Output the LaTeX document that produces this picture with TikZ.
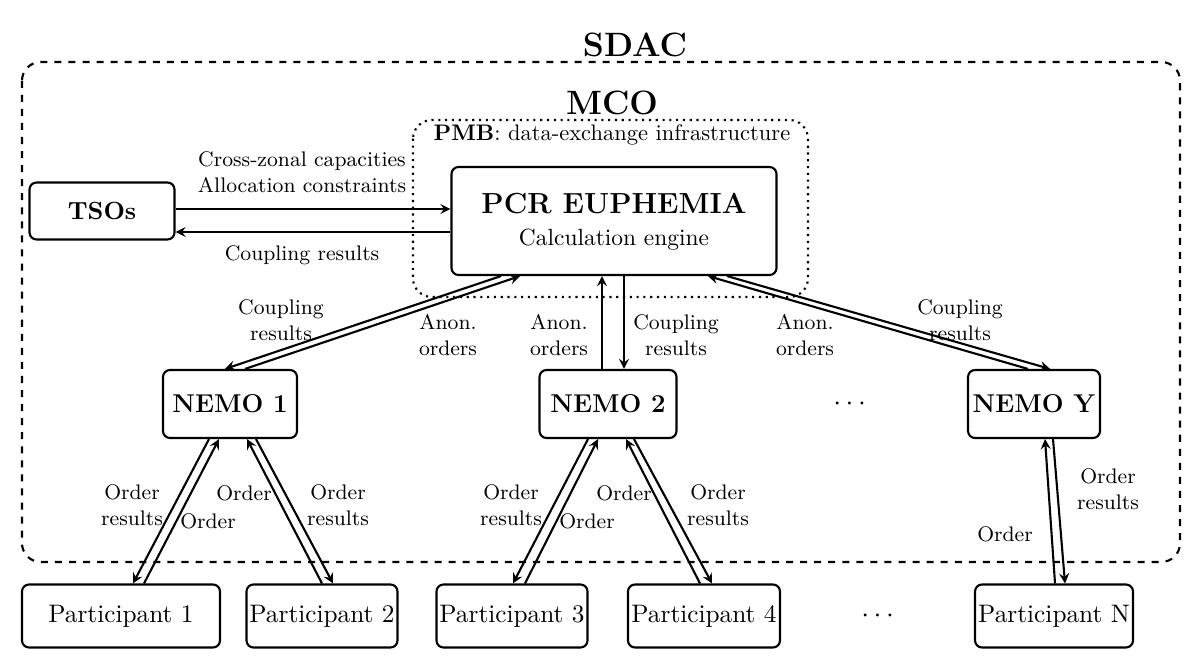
\documentclass[tikz,border=0pt]{standalone}
\usepackage{amsmath}
\usepackage{amssymb}
\usetikzlibrary{arrows}

\begin{document}
\begin{tikzpicture}[x=0.015cm, y=-0.015cm, every path/.style={line width=0.9pt}, >=stealth,
	box/.style={draw=black, rounded corners=3pt, line width=0.9pt, inner sep=0pt},
	lbl/.style={font=\small, align=center, inner sep=1pt},
	part/.style={box, font=\fontsize{10.8}{13}\selectfont, minimum height=63*0.015cm}]
			\useasboundingbox (0,0) rectangle (1200,669);
			\node[font=\Large\bfseries] (sdac) at (635,45) {SDAC};
			\draw[dashed, rounded corners=8pt] (22,62) rectangle (1180,562);
			\node[font=\Large\bfseries] (mco) at (612,103) {MCO};
			\draw[dotted, rounded corners=8pt] (413,120) rectangle (808,297);
			\node[lbl, font=\fontsize{9.6}{11}\selectfont] (pmb) at (612,135) {\textbf{PMB}: data-exchange infrastructure};
			
			\node[box, minimum width=325*0.015cm, minimum height=108*0.015cm] (pcr) at (614,221){};
			\node[font=\fontsize{12.4}{15}\selectfont\bfseries] (pcrt) at (614,204) {PCR EUPHEMIA};
			\node (pcrs) at (614,240) {Calculation engine};
			\node[box, font=\fontsize{10.6}{12}\selectfont\bfseries, minimum width=145*0.015cm, minimum height=57*0.015cm] (tso) at (102,211){TSOs};
			
			\node[box, font=\fontsize{11}{12}\selectfont\bfseries, minimum width=134*0.015cm, minimum height=68*0.015cm] (n1) at (230,404){NEMO 1};
			\node[box, font=\fontsize{11}{12}\selectfont\bfseries, minimum width=137*0.015cm, minimum height=68*0.015cm] (n2) at (608,404){NEMO 2};
			\node[box, font=\fontsize{11}{12}\selectfont\bfseries, minimum width=132*0.015cm, minimum height=68*0.015cm] (ny) at (1034,404){NEMO Y};
			\node[font=\large] (nd) at (852,404){$\cdots$};
			
			\node[part, minimum width=198*0.015cm] (p1) at (121,616){Participant 1};
			\node[part, minimum width=151*0.015cm] (p2) at (322,616){Participant 2};
			\node[part, minimum width=151*0.015cm] (p3) at (512,616){Participant 3};
			\node[part, minimum width=152*0.015cm] (p4) at (704,616){Participant 4};
			\node[font=\large] (pd) at (880,616){$\cdots$};
			\node[part, minimum width=158*0.015cm] (pn) at (1054,616){Participant N};
			
			% TSOs and PCR
			\draw[->] ([yshift=2*0.015cm]tso.east) -- ([yshift=2*0.015cm]tso.east -| pcr.west);
			\draw[->] ([yshift=-21*0.015cm]tso.east -| pcr.west) -- ([yshift=-21*0.015cm]tso.east);
			\node[lbl] (cz) at (302,172) {Cross-zonal capacities\\Allocation constraints};
			\node[lbl] (cr) at (302,255) {Coupling results};
			
			% PCR and NEMOs
			\draw[->] ([xshift=-113*0.015cm]pcr.south) -- ([xshift=-5*0.015cm]n1.north);
			\draw[->] ([xshift=15*0.015cm]n1.north) -- ([xshift=-94*0.015cm]pcr.south);
			\draw[->] ([xshift=-6*0.015cm]n2.north) -- ([xshift=-12*0.015cm]pcr.south);
			\draw[->] ([xshift=10*0.015cm]pcr.south) -- ([xshift=16*0.015cm]n2.north);
			\draw[->] ([xshift=113*0.015cm]pcr.south) -- ([xshift=16*0.015cm]ny.north);
			\draw[->] ([xshift=-6*0.015cm]ny.north) -- ([xshift=94*0.015cm]pcr.south);
			\node[lbl] at (281,320) {Coupling\\results};
			\node[lbl] at (448,335) {Anon.\\orders};
			\node[lbl] at (559,335) {Anon.\\orders};
			\node[lbl] at (676,335) {Coupling\\results};
			\node[lbl] at (805,335) {Anon.\\orders};
			\node[lbl] at (960,320) {Coupling\\results};
			
			% NEMOs and participants
			\draw[->] ([xshift=-21*0.015cm]n1.south) -- ([xshift=12*0.015cm]p1.north);
			\draw[->] ([xshift=23*0.015cm]p1.north) -- ([xshift=-11*0.015cm]n1.south);
			\draw[->] ([xshift=0*0.015cm]p2.north) -- ([xshift=17*0.015cm]n1.south);
			\draw[->] ([xshift=26*0.015cm]n1.south) -- ([xshift=11*0.015cm]p2.north);
			\draw[->] ([xshift=-20*0.015cm]n2.south) -- ([xshift=1*0.015cm]p3.north);
			\draw[->] ([xshift=13*0.015cm]p3.north) -- ([xshift=-10*0.015cm]n2.south);
			\draw[->] ([xshift=-4*0.015cm]p4.north) -- ([xshift=18*0.015cm]n2.south);
			\draw[->] ([xshift=26*0.015cm]n2.south) -- ([xshift=8*0.015cm]p4.north);
			\draw[->] ([xshift=1*0.015cm]pn.north) -- ([xshift=11*0.015cm]ny.south);
			\draw[->] ([xshift=19*0.015cm]ny.south) -- ([xshift=11*0.015cm]pn.north);
			\node[lbl] at (132,505) {Order\\results};
			\node[lbl] at (208,521) {Order};
			\node[lbl] at (244,493) {Order};
			\node[lbl] at (338,505) {Order\\results};
			\node[lbl] at (511,505) {Order\\results};
			\node[lbl] at (587,521) {Order};
			\node[lbl] at (624,493) {Order};
			\node[lbl] at (718,505) {Order\\results};
			\node[lbl] at (1005,534) {Order};
			\node[lbl] at (1108,489) {Order\\results};
			\end{tikzpicture}
\end{document}
